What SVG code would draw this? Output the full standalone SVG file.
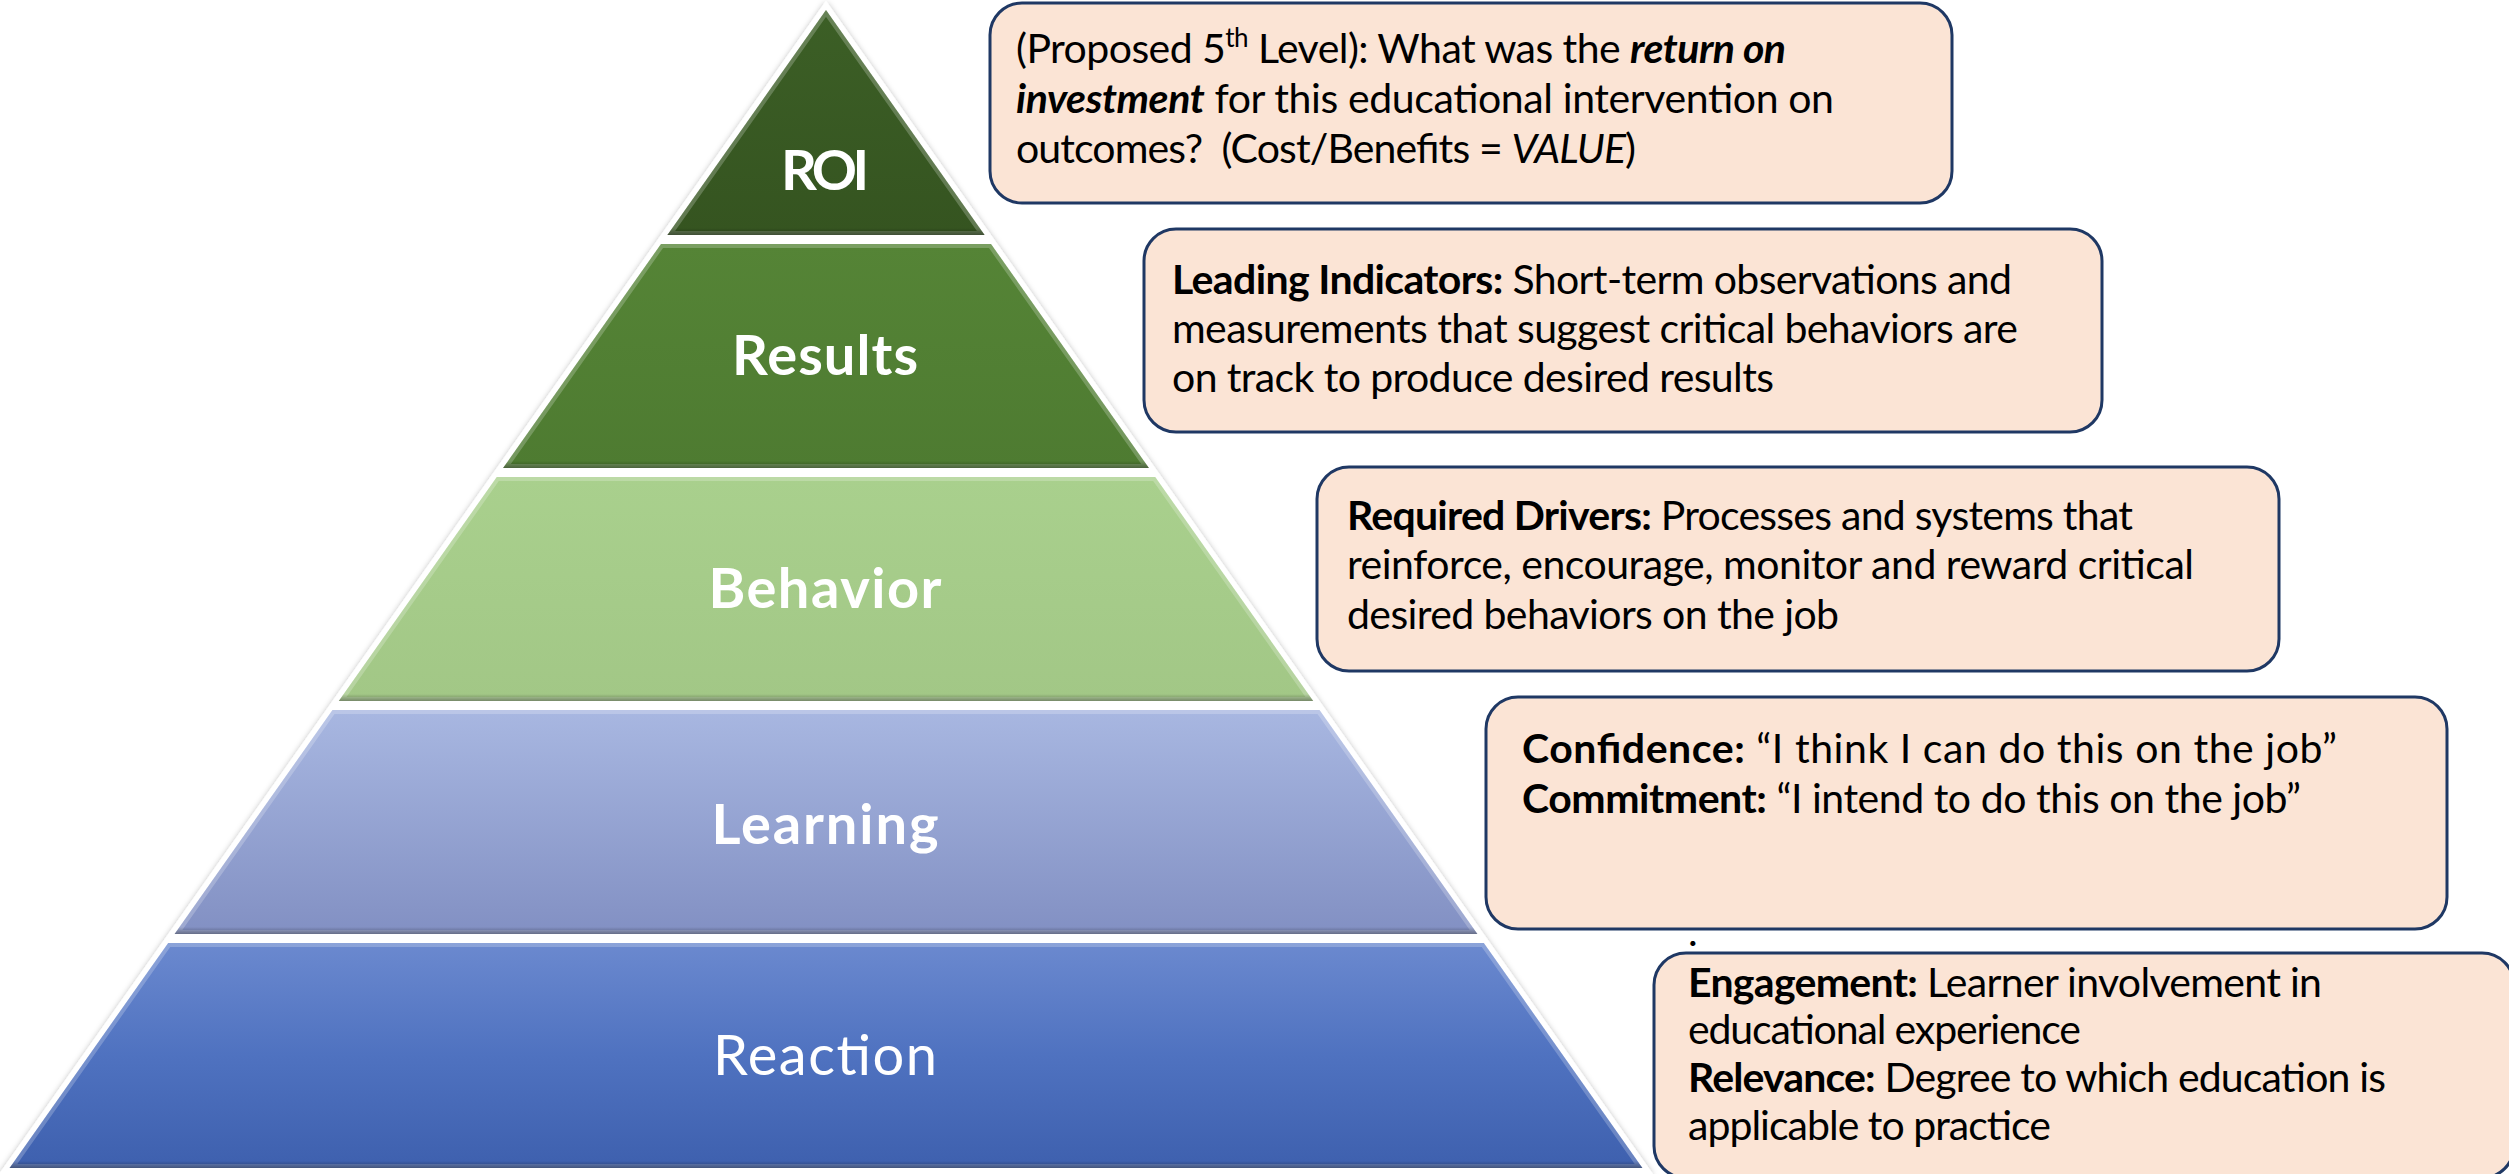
<svg xmlns="http://www.w3.org/2000/svg" xmlns:xlink="http://www.w3.org/1999/xlink" width="2509" height="1174" viewBox="0 0 2509 1174">
  <style>
    .lbl { font-family: Lato, "Open Sans", "Liberation Sans", sans-serif; font-size: 56px; fill: #ffffff; text-anchor: middle; font-weight: 700; }
    .lbl.reg { font-weight: 400; }
    .box { fill: #fbe4d5; stroke: #1f3864; stroke-width: 3; }
    .txt { font-family: Lato, "Open Sans", "Liberation Sans", sans-serif; font-size: 41px; fill: #000000; }
    .b { font-weight: 700; }
    .i { font-style: italic; }
    .bevel { fill: none; stroke: #ffffff; stroke-opacity: 0.22; stroke-width: 8; }
  </style>
  <defs>
    <filter id="outerShadow" x="-5%" y="-5%" width="110%" height="110%">
      <feDropShadow dx="0" dy="2" stdDeviation="3" flood-color="#000000" flood-opacity="0.35"/>
    </filter>
    <linearGradient id="g-roi" x1="0" y1="0" x2="0" y2="1">
      <stop offset="0" stop-color="#3c5f26"/>
      <stop offset="1" stop-color="#355420"/>
    </linearGradient>
    <linearGradient id="g-results" x1="0" y1="0" x2="0" y2="1">
      <stop offset="0" stop-color="#558436"/>
      <stop offset="1" stop-color="#4e7b31"/>
    </linearGradient>
    <linearGradient id="g-behavior" x1="0" y1="0" x2="0" y2="1">
      <stop offset="0" stop-color="#a9d08d"/>
      <stop offset="1" stop-color="#a2c786"/>
    </linearGradient>
    <linearGradient id="g-learning" x1="0" y1="0" x2="0" y2="1">
      <stop offset="0" stop-color="#a8b7e1"/>
      <stop offset="1" stop-color="#8290c3"/>
    </linearGradient>
    <linearGradient id="g-reaction" x1="0" y1="0" x2="0" y2="1">
      <stop offset="0" stop-color="#6b89cf"/>
      <stop offset="0.5" stop-color="#4f72c0"/>
      <stop offset="1" stop-color="#3e60ae"/>
    </linearGradient>
    <linearGradient id="shade" x1="0" y1="0" x2="0" y2="1">
      <stop offset="0" stop-color="#000000" stop-opacity="0"/>
      <stop offset="1" stop-color="#000000" stop-opacity="0.35"/>
    </linearGradient>

    <!-- pyramid tiers: apex (826,10), side slope 0.705 -->
    <polygon id="p-roi" points="826,10 984.6,235 667.4,235"/>
    <polygon id="p-results" points="661,244 991,244 1148.9,468 503.1,468"/>
    <polygon id="p-behavior" points="496.8,477 1155.2,477 1313.2,701 338.8,701"/>
    <polygon id="p-learning" points="332.5,710 1319.5,710 1477.4,934 174.6,934"/>
    <polygon id="p-reaction" points="168.2,943 1483.8,943 1642.4,1168 9.6,1168"/>
    <clipPath id="c-roi"><use xlink:href="#p-roi"/></clipPath>
    <clipPath id="c-results"><use xlink:href="#p-results"/></clipPath>
    <clipPath id="c-behavior"><use xlink:href="#p-behavior"/></clipPath>
    <clipPath id="c-learning"><use xlink:href="#p-learning"/></clipPath>
    <clipPath id="c-reaction"><use xlink:href="#p-reaction"/></clipPath>
  </defs>

  <rect width="2509" height="1174" fill="#ffffff"/>

  <!-- white pyramid backing with soft shadow -->
  <polygon id="pyramid-outline" points="826,0.8 1653,1174 -1,1174" fill="#ffffff" filter="url(#outerShadow)"/>

  <g id="level-roi">
    <use xlink:href="#p-roi" fill="url(#g-roi)"/>
    <g clip-path="url(#c-roi)">
      <use xlink:href="#p-roi" class="bevel"/>
      <rect x="0" y="228" width="1700" height="7" fill="url(#shade)"/>
    </g>
    <text class="lbl" x="825" y="190" textLength="88">ROI</text>
  </g>

  <g id="level-results">
    <use xlink:href="#p-results" fill="url(#g-results)"/>
    <g clip-path="url(#c-results)">
      <use xlink:href="#p-results" class="bevel"/>
      <rect x="0" y="461" width="1700" height="7" fill="url(#shade)"/>
    </g>
    <text class="lbl" x="825" y="375" textLength="186">Results</text>
  </g>

  <g id="level-behavior">
    <use xlink:href="#p-behavior" fill="url(#g-behavior)"/>
    <g clip-path="url(#c-behavior)">
      <use xlink:href="#p-behavior" class="bevel"/>
      <rect x="0" y="694" width="1700" height="7" fill="url(#shade)"/>
    </g>
    <text class="lbl" x="825" y="608" textLength="233">Behavior</text>
  </g>

  <g id="level-learning">
    <use xlink:href="#p-learning" fill="url(#g-learning)"/>
    <g clip-path="url(#c-learning)">
      <use xlink:href="#p-learning" class="bevel"/>
      <rect x="0" y="927" width="1700" height="7" fill="url(#shade)"/>
    </g>
    <text class="lbl" x="825" y="844" textLength="227">Learning</text>
  </g>

  <g id="level-reaction">
    <use xlink:href="#p-reaction" fill="url(#g-reaction)"/>
    <g clip-path="url(#c-reaction)">
      <use xlink:href="#p-reaction" class="bevel"/>
      <rect x="0" y="1161" width="1700" height="7" fill="url(#shade)"/>
    </g>
    <text class="lbl reg" x="825" y="1075" textLength="224">Reaction</text>
  </g>

  <!-- description callouts -->
  <g id="note-roi">
    <rect class="box" x="990" y="3" width="962" height="200" rx="32"/>
    <text class="txt" x="1016" y="63" textLength="770">(Proposed 5<tspan font-size="26" baseline-shift="super">th</tspan> Level): What was the <tspan class="b i">return on</tspan></text>
    <text class="txt" x="1016" y="113" textLength="818"><tspan class="b i">investment</tspan> for this educational intervention on</text>
    <text class="txt" x="1016" y="163" textLength="620" xml:space="preserve">outcomes?  (Cost/Benefits = <tspan class="i">VALUE</tspan>)</text>
  </g>

  <g id="note-results">
    <rect class="box" x="1144" y="229" width="958" height="203" rx="32"/>
    <text class="txt" x="1172" y="294" textLength="840"><tspan class="b">Leading Indicators:</tspan> Short-term observations and</text>
    <text class="txt" x="1172" y="343" textLength="846">measurements that suggest critical behaviors are</text>
    <text class="txt" x="1172" y="392" textLength="602">on track to produce desired results</text>
  </g>

  <g id="note-behavior">
    <rect class="box" x="1317" y="467" width="962" height="204" rx="32"/>
    <text class="txt" x="1347" y="530" textLength="786"><tspan class="b">Required Drivers:</tspan> Processes and systems that</text>
    <text class="txt" x="1347" y="579" textLength="847">reinforce, encourage, monitor and reward critical</text>
    <text class="txt" x="1347" y="629" textLength="492">desired behaviors on the job</text>
  </g>

  <g id="note-learning">
    <rect class="box" x="1486" y="697" width="961" height="232" rx="32"/>
    <text class="txt" x="1522" y="763" textLength="815"><tspan class="b">Confidence:</tspan> “I think I can do this on the job”</text>
    <text class="txt" x="1522" y="813" textLength="779"><tspan class="b">Commitment:</tspan> “I intend to do this on the job”</text>
  </g>

  <text class="txt" x="1688" y="946">.</text>

  <g id="note-reaction">
    <rect class="box" x="1654" y="953" width="860" height="225" rx="32"/>
    <text class="txt" x="1688" y="997" textLength="634"><tspan class="b">Engagement:</tspan> Learner involvement in</text>
    <text class="txt" x="1688" y="1044" textLength="393">educational experience</text>
    <text class="txt" x="1688" y="1092" textLength="698"><tspan class="b">Relevance:</tspan> Degree to which education is</text>
    <text class="txt" x="1688" y="1140" textLength="363">applicable to practice</text>
  </g>

  <!-- no connectors in this figure -->
  <g id="connectors"/>
</svg>
